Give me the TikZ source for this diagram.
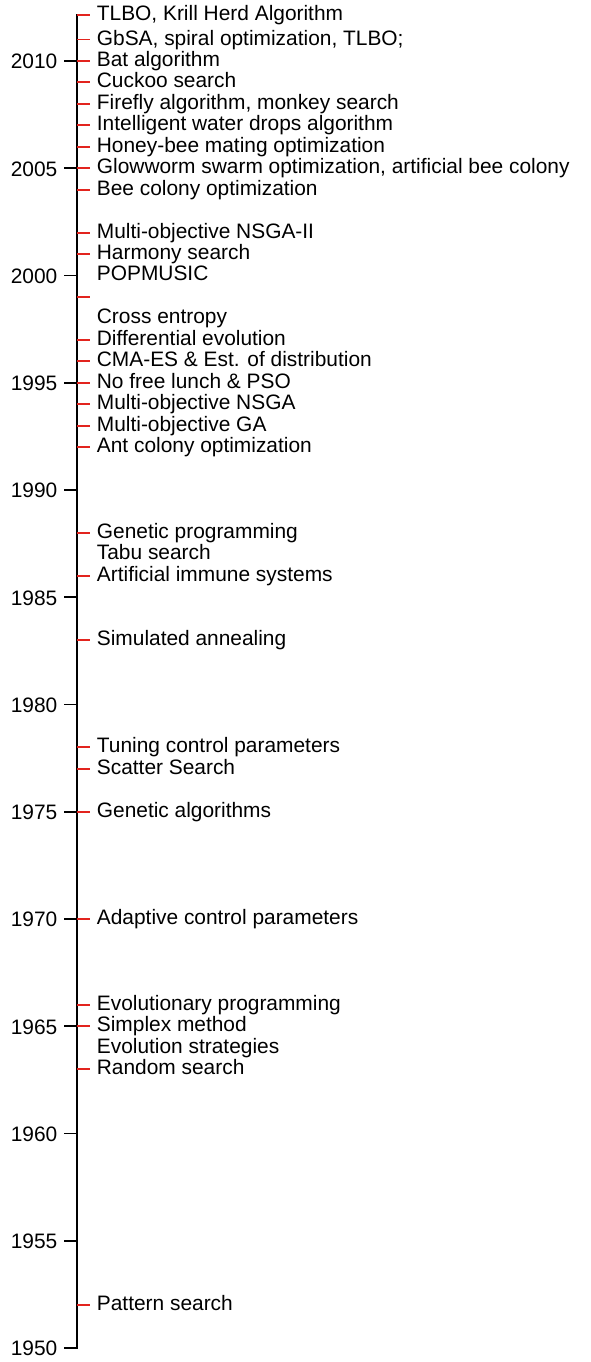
\documentclass[tikz,border=0pt]{standalone}
\usepackage{fontspec}
\setmainfont{Liberation Sans}
\definecolor{tickred}{RGB}{226,36,30}
\begin{document}
\begin{tikzpicture}[x=1pt,y=1pt,
  axisline/.style={line width=2pt,black},
  yeartick/.style={line width=1.9pt,black},
  eventtick/.style={line width=1.9pt,tickred},
  yearlabel/.style={anchor=base east,inner sep=0pt,font=\fontsize{20.9}{25}\selectfont},
  eventlabel/.style={anchor=base west,inner sep=0pt,font=\fontsize{20.9}{25}\selectfont}]
\useasboundingbox (0,-14) rectangle (591,1348);
\def\s{21.45}
% axis
\coordinate (axbot) at (77,-0.95);
\coordinate (axtop) at (77,{62.15*\s+0.95});
% year ticks and labels
\foreach \yr [count=\i] in {1950,1955,...,2010}{
  \pgfmathsetmacro\yy{(\yr-1950)*\s}
  \coordinate (ya\i) at (77,\yy);
  \draw[yeartick] (ya\i) -- ++(-13,0);
  \node[yearlabel] (yl\i) at (57.5,\yy-7.8) {\yr};
}
\draw[axisline] (axbot) -- (axtop);
% event ticks
\foreach \yr [count=\i] in {2012.15,2011,2010,2009,2008,2007,2006,2005,2004,2002,2001,1999,1997,1996,1995,1994,1993,1992,1988,1986,1983,1978,1977,1975,1970,1966,1965,1963,1952}{
  \pgfmathsetmacro\yy{(\yr-1950)*\s}
  \coordinate (ea\i) at (77,\yy);
  \draw[eventtick] (ea\i) -- ++(13,0);
}
% event labels
\foreach \yr/\txt [count=\i] in {
  2012.15/{TLBO, Krill Herd Algorithm},
  2011/{GbSA, spiral optimization, TLBO;},
  2010/{Bat algorithm},
  2009/{Cuckoo search},
  2008/{Firefly algorithm, monkey search},
  2007/{Intelligent water drops algorithm},
  2006/{Honey-bee mating optimization},
  2005/{Glowworm swarm optimization, artificial bee colony},
  2004/{Bee colony optimization},
  2002/{Multi-objective NSGA-II},
  2001/{Harmony search},
  2000/{POPMUSIC},
  1998/{Cross entropy},
  1997/{Differential evolution},
  1996/{CMA-ES \& Est. of distribution},
  1995/{No free lunch \& PSO},
  1994/{Multi-objective NSGA},
  1993/{Multi-objective GA},
  1992/{Ant colony optimization},
  1988/{Genetic programming},
  1987/{Tabu search},
  1986/{Artificial immune systems},
  1983/{Simulated annealing},
  1978/{Tuning control parameters},
  1977/{Scatter Search},
  1975/{Genetic algorithms},
  1970/{Adaptive control parameters},
  1966/{Evolutionary programming},
  1965/{Simplex method},
  1964/{Evolution strategies},
  1963/{Random search},
  1952/{Pattern search}}{
  \pgfmathsetmacro\yy{(\yr-1950)*\s}
  \node[eventlabel] (ev\i) at (96.7,\yy-5.5) {\txt};
}
\end{tikzpicture}
\end{document}
